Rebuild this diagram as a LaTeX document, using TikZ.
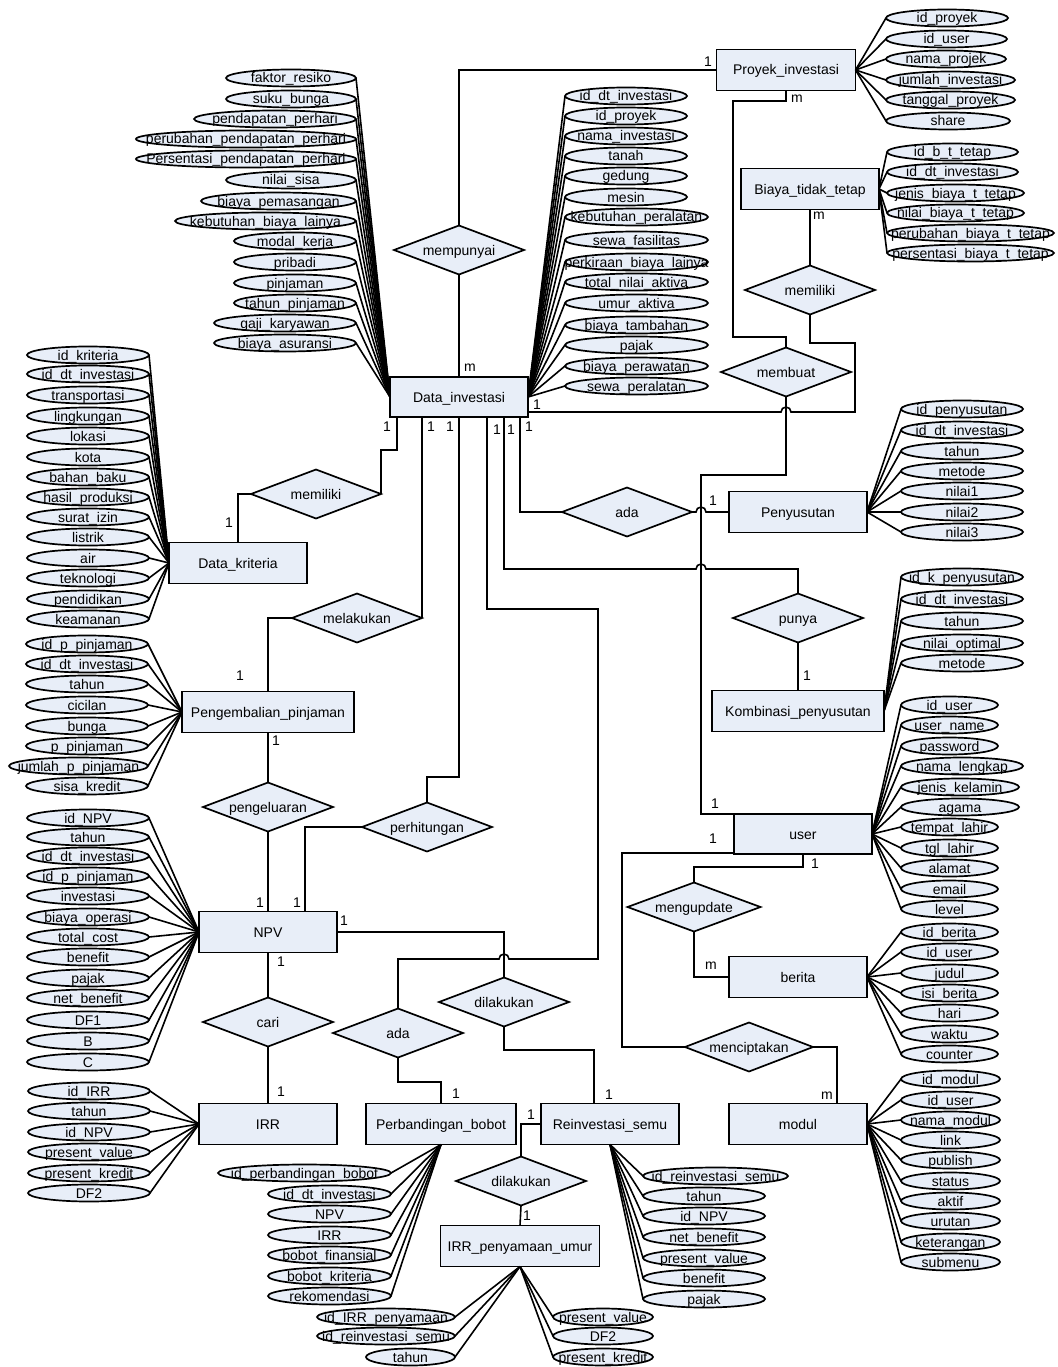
\documentclass[tikz,border=0pt]{standalone}
\usepackage{fontspec}
\setmainfont{Liberation Sans}
\usetikzlibrary{shapes.geometric}
\definecolor{erfill}{RGB}{232,238,248}
\tikzset{
  base/.style={draw, fill=erfill, line width=1.7pt, inner sep=0pt, outer sep=0pt, text height=10pt, text depth=0pt},
  entity/.style={base, rectangle, minimum width=138pt, minimum height=41pt},
  rel/.style={base, diamond, aspect=3, minimum width=130pt, minimum height=49pt},
  attr/.style={base, ellipse, minimum height=17pt, minimum width=122pt},
  conn/.style={line width=1.6pt},
  card/.style={inner sep=0pt}
}
\begin{document}
\begin{tikzpicture}[x=1pt, y=-1pt, font=\fontsize{14}{16}\selectfont]
\path[use as bounding box, fill=white] (0,0) rectangle (1057,1367);

% entitas
\node[entity, minimum width=139pt] (proyek) at (786,70) {Proyek\_investasi};
\node[entity] (biaya) at (810,189) {Biaya\_tidak\_tetap};
\node[entity, minimum height=40pt] (datainv) at (459,397) {Data\_investasi};
\node[entity] (kriteria) at (238,563) {Data\_kriteria};
\node[entity] (penyusutan) at (798,512) {Penyusutan};
\node[entity, minimum width=172pt] (kombinasi) at (798,711) {Kombinasi\_penyusutan};
\node[entity, minimum width=172pt] (pinjaman) at (268,712) {Pengembalian\_pinjaman};
\node[entity, minimum height=40pt] (user) at (803,834) {user};
\node[entity] (npv) at (268,932) {NPV};
\node[entity] (berita) at (798,977) {berita};
\node[entity] (irr) at (268,1124) {IRR};
\node[entity, minimum width=150pt] (bobot) at (441,1124) {Perbandingan\_bobot};
\node[entity] (reinv) at (610,1124) {Reinvestasi\_semu};
\node[entity] (modul) at (798,1124) {modul};
\node[entity, minimum width=159pt] (irrpu) at (520,1246) {IRR\_penyamaan\_umur};

% relasi
\node[rel] (mempunyai) at (459,250) {mempunyai};
\node[rel] (memilikiB) at (810,290) {memiliki};
\node[rel] (membuat) at (786,372) {membuat};
\node[rel] (memilikiK) at (316,494) {memiliki};
\node[rel] (adaP) at (627,512) {ada};
\node[rel] (punya) at (798,618) {punya};
\node[rel] (melakukan) at (357,618) {melakukan};
\node[rel] (pengeluaran) at (268,807) {pengeluaran};
\node[rel] (perhitungan) at (427,827) {perhitungan};
\node[rel, minimum width=133pt] (mengupdate) at (694,907) {mengupdate};
\node[rel] (cari) at (268,1022) {cari};
\node[rel] (adaB) at (398,1033) {ada};
\node[rel] (dilakukanA) at (504,1002) {dilakukan};
\node[rel, minimum width=128pt] (menciptakan) at (749,1047) {menciptakan};
\node[rel] (dilakukanB) at (521,1181) {dilakukan};

% hubungan
\draw[conn] (proyek.west) -| (mempunyai.north);
\draw[conn] (mempunyai.south) -- (datainv.north);
\draw[conn] (proyek.south) |- (733,101) |- (786,337) -- (membuat.north);
\draw[conn] (biaya.south) -- (memilikiB.north);
\draw[conn] ([yshift=-15pt]datainv.east) -- (781,412) arc[start angle=180, end angle=0, radius=5pt] -| (855,343) -| (memilikiB.south);
\draw[conn] (membuat.south) |- (701,475) |- (user.north west);
\draw[conn] ([xshift=-62pt]datainv.south) |- (381,450) -- (memilikiK.east);
\draw[conn] (memilikiK.west) -| (kriteria.north);
\draw[conn] ([xshift=-37pt]datainv.south) |- (melakukan.east);
\draw[conn] (melakukan.west) -| (pinjaman.north);
\draw[conn] (datainv.south) |- (427,777) -- (perhitungan.north);
\draw[conn] (perhitungan.west) -| ([xshift=37pt]npv.north);
\draw[conn] ([xshift=28pt]datainv.south) |- (598,609) |- (509,959) arc[start angle=0, end angle=180, radius=5pt] -| (adaB.north);
\draw[conn] (adaB.south) |- (441,1082) -- (bobot.north);
\draw[conn] ([xshift=45pt]datainv.south) |- (696,569) arc[start angle=180, end angle=0, radius=5pt] -| (punya.north);
\draw[conn] (punya.south) -- (kombinasi.north);
\draw[conn] ([xshift=61pt]datainv.south) |- (adaP.west);
\draw[conn] (adaP.east) -- (696,512) arc[start angle=180, end angle=0, radius=5pt] -- (penyusutan.west);
\draw[conn] (pinjaman.south) -- (pengeluaran.north);
\draw[conn] (pengeluaran.south) -- (npv.north);
\draw[conn] (npv.south) -- (cari.north);
\draw[conn] (cari.south) -- (irr.north);
\draw[conn] (npv.east) -| (dilakukanA.north);
\draw[conn] (dilakukanA.south) |- (594,1050) -- ([xshift=-16pt]reinv.north);
\draw[conn] (reinv.west) -| (dilakukanB.north);
\draw[conn] (dilakukanB.south) -- (irrpu.north);
\draw[conn] ([yshift=-19pt]user.west) -| (622,1047) -- (menciptakan.west);
\draw[conn] (menciptakan.east) -| ([xshift=39pt]modul.north);
\draw[conn] (user.south) |- (694,867) -- (mengupdate.north);
\draw[conn] (mengupdate.south) |- (berita.west);

% kardinalitas
\foreach \x/\y/\txt [count=\i] in {708/62/1, 470/368/m, 797/99/m, 819/216/m, 537/405/1,
  387/427/1, 431/427/1, 450/427/1, 497/430/1, 511/430/1, 529/427/1, 229/523/1, 713/501/1,
  807/676/1, 240/676/1, 276/741/1, 260/903/1, 297/903/1, 344/921/1, 281/962/1, 281/1092/1,
  456/1094/1, 531/1115/1, 609/1095/1, 527/1216/1, 715/804/1, 713/839/1, 815/864/1,
  711/966/m, 827/1096/m}
  \node[card] (card\i) at (\x,\y) {\txt};

% atribut Proyek_investasi
\foreach \txt/\y/\w [count=\i] in {id\_proyek/18/122, id\_user/39/121, nama\_projek/59/120,
  jumlah\_investasi/80/129, tanggal\_proyek/100/129, share/121/124}{
  \node[attr, minimum width=\w, anchor=west] (pa\i) at (886,\y) {\makebox[0pt]{\txt}};
  \draw[conn] (proyek.east) -- (pa\i.west);
}
% atribut Biaya_tidak_tetap
\foreach \txt/\y/\w [count=\i] in {id\_b\_t\_tetap/152/131, id\_dt\_investasi/172/131,
  jenis\_biaya\_t\_tetap/193/137, nilai\_biaya\_t\_tetap/213/137,
  perubahan\_biaya\_t\_tetap/233/167, persentasi\_biaya\_t\_tetap/253/167}{
  \node[attr, minimum width=\w, anchor=west] (bt\i) at (887,\y) {\makebox[0pt]{\txt}};
  \draw[conn] (biaya.east) -- (bt\i.west);
}
% atribut Data_investasi
\foreach \txt/\y/\w [count=\i] in {id\_dt\_investasi/96/122, id\_proyek/116/122,
  nama\_investasi/136/122, tanah/156/122, gedung/176/122, mesin/197/122,
  kebutuhan\_peralatan/217/143, sewa\_fasilitas/240/143, perkiraan\_biaya\_lainya/262/143,
  total\_nilai\_aktiva/282/143, umur\_aktiva/303/143, biaya\_tambahan/325/143,
  pajak/345/143, biaya\_perawatan/366/143, sewa\_peralatan/386/143}{
  \node[attr, minimum width=\w, anchor=west] (dr\i) at (565,\y) {\makebox[0pt]{\txt}};
  \draw[conn] (datainv.east) -- (dr\i.west);
}
\foreach \txt/\y/\w [count=\i] in {faktor\_resiko/78/130, suku\_bunga/99/130,
  pendapatan\_perhari/119/162, perubahan\_pendapatan\_perhari/139/220,
  Persentasi\_pendapatan\_perhari/159/220, nilai\_sisa/180/130, biaya\_pemasangan/201/155,
  kebutuhan\_biaya\_lainya/221/181, modal\_kerja/241/122, pribadi/262/122, pinjaman/283/122,
  tahun\_pinjaman/303/122, gaji\_karyawan/323/142, biaya\_asuransi/343/142}{
  \node[attr, minimum width=\w, anchor=east] (dl\i) at (356,\y) {\makebox[0pt]{\txt}};
  \draw[conn] (datainv.west) -- (dl\i.east);
}
% atribut Data_kriteria
\foreach \txt/\y [count=\i] in {id\_kriteria/355, id\_dt\_investasi/374, transportasi/395,
  lingkungan/416, lokasi/436, kota/457, bahan\_baku/477, hasil\_produksi/497, surat\_izin/517,
  listrik/537, air/558, teknologi/578, pendidikan/599, keamanan/619}{
  \node[attr, anchor=east] (kr\i) at (149,\y) {\makebox[0pt]{\txt}};
  \draw[conn] (kriteria.west) -- (kr\i.east);
}
% atribut Penyusutan dan Kombinasi_penyusutan
\foreach \txt/\y [count=\i] in {id\_penyusutan/409, id\_dt\_investasi/430, tahun/451,
  metode/471, nilai1/491, nilai2/512, nilai3/532}{
  \node[attr, anchor=west] (py\i) at (901,\y) {\makebox[0pt]{\txt}};
  \draw[conn] (penyusutan.east) -- (py\i.west);
}
\foreach \txt/\y [count=\i] in {id\_k\_penyusutan/577, id\_dt\_investasi/599, tahun/621,
  nilai\_optimal/643, metode/663}{
  \node[attr, anchor=west] (kb\i) at (901,\y) {\makebox[0pt]{\txt}};
  \draw[conn] (kombinasi.east) -- (kb\i.west);
}
% atribut Pengembalian_pinjaman
\foreach \txt/\y/\w [count=\i] in {id\_p\_pinjaman/644/122, id\_dt\_investasi/664/122,
  tahun/684/122, cicilan/705/122, bunga/726/122, p\_pinjaman/746/122,
  jumlah\_p\_pinjaman/766/139, sisa\_kredit/786/122}{
  \node[attr, minimum width=\w, anchor=east] (pj\i) at (148,\y) {\makebox[0pt]{\txt}};
  \draw[conn] (pinjaman.west) -- (pj\i.east);
}
% atribut NPV
\foreach \txt/\y [count=\i] in {id\_NPV/818, tahun/837, id\_dt\_investasi/856,
  id\_p\_pinjaman/876, investasi/896, biaya\_operasi/917, total\_cost/937, benefit/957,
  pajak/978, net\_benefit/998, DF1/1020, B/1041, C/1062}{
  \node[attr, anchor=east] (np\i) at (149,\y) {\makebox[0pt]{\txt}};
  \draw[conn] (npv.west) -- (np\i.east);
}
% atribut IRR
\foreach \txt/\y [count=\i] in {id\_IRR/1091, tahun/1111, id\_NPV/1132, present\_value/1152,
  present\_kredit/1173, DF2/1193}{
  \node[attr, anchor=east] (ir\i) at (150,\y) {\makebox[0pt]{\txt}};
  \draw[conn] (irr.west) -- (ir\i.east);
}
% atribut Perbandingan_bobot
\foreach \txt/\y/\w [count=\i] in {id\_perbandingan\_bobot/1173/173, id\_dt\_investasi/1194/123,
  NPV/1214/123, IRR/1235/123, bobot\_finansial/1255/123, bobot\_kriteria/1276/123,
  rekomendasi/1296/123}{
  \node[attr, minimum width=\w, anchor=east] (pb\i) at (391,\y) {\makebox[0pt]{\txt}};
  \draw[conn] (bobot.south) -- (pb\i.east);
}
% atribut Reinvestasi_semu
\foreach \txt/\y/\w [count=\i] in {id\_reinvestasi\_semu/1176/145, tahun/1196/122,
  id\_NPV/1216/122, net\_benefit/1237/122, present\_value/1258/122, benefit/1278/122,
  pajak/1299/122}{
  \node[attr, minimum width=\w, anchor=west] (rs\i) at (643,\y) {\makebox[0pt]{\txt}};
  \draw[conn] (reinv.south) -- (rs\i.west);
}
% atribut IRR_penyamaan_umur
\foreach \txt/\y/\w [count=\i] in {id\_IRR\_penyamaan/1317/138, id\_reinvestasi\_semu/1336/138,
  tahun/1357/89}{
  \node[attr, minimum width=\w, anchor=east] (ul\i) at (455,\y) {\makebox[0pt]{\txt}};
  \draw[conn] (irrpu.south) -- (ul\i.east);
}
\foreach \txt/\y [count=\i] in {present\_value/1317, DF2/1336, present\_kredit/1357}{
  \node[attr, minimum width=100pt, anchor=west] (ur\i) at (553,\y) {\makebox[0pt]{\txt}};
  \draw[conn] (irrpu.south) -- (ur\i.west);
}
% atribut user
\foreach \txt/\y/\w [count=\i] in {id\_user/705/97, user\_name/725/97, password/746/97,
  nama\_lengkap/766/122, jenis\_kelamin/787/118, agama/807/118, tempat\_lahir/827/97,
  tgl\_lahir/848/97, alamat/868/97, email/889/97, level/909/97}{
  \node[attr, minimum width=\w, anchor=west] (us\i) at (901,\y) {\makebox[0pt]{\txt}};
  \draw[conn] (user.east) -- (us\i.west);
}
% atribut berita
\foreach \txt/\y [count=\i] in {id\_berita/932, id\_user/952, judul/973, isi\_berita/993,
  hari/1013, waktu/1034, counter/1054}{
  \node[attr, minimum width=97pt, anchor=west] (br\i) at (901,\y) {\makebox[0pt]{\txt}};
  \draw[conn] (berita.east) -- (br\i.west);
}
% atribut modul
\foreach \txt/\y [count=\i] in {id\_modul/1079, id\_user/1100, nama\_modul/1120, link/1140,
  publish/1160, status/1181, aktif/1201, urutan/1221, keterangan/1242, submenu/1262}{
  \node[attr, minimum width=99pt, anchor=west] (md\i) at (901,\y) {\makebox[0pt]{\txt}};
  \draw[conn] (modul.east) -- (md\i.west);
}
\end{tikzpicture}
\end{document}
